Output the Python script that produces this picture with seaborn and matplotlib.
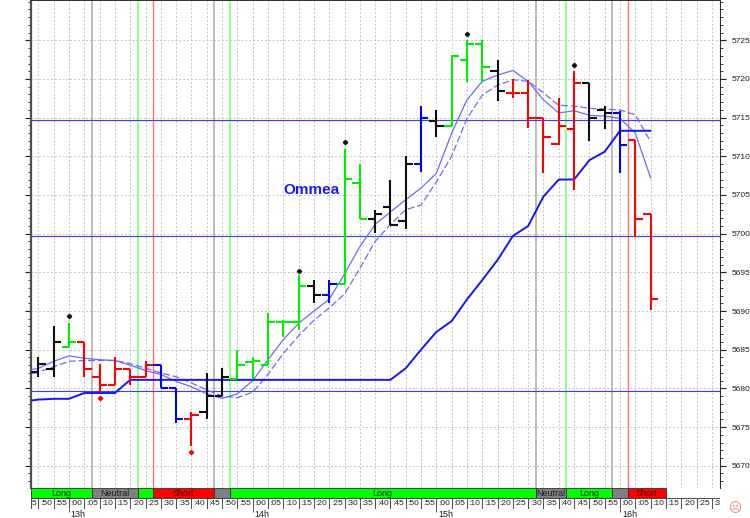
import numpy as np
import pandas as pd
import matplotlib
matplotlib.use('Agg')
import matplotlib.pyplot as plt
import seaborn as sns
from matplotlib.patches import Rectangle
from matplotlib.ticker import MultipleLocator

# bar times, minutes after 12:00 (12:50 ... 16:10)
times = list(range(50, 255, 5))
opens = [5682.1, 5682.5, 5685.4, 5686.0, 5681.5, 5680.5, 5682.5, 5681.5, 5683.0, 5680.0,
         5676.1, 5677.0, 5679.0, 5681.2, 5683.4, 5683.0, 5688.6, 5688.6, 5693.2, 5692.1,
         5693.5, 5706.6, 5701.9, 5703.5, 5701.6, 5709.0, 5714.6, 5713.9, 5722.5, 5724.5,
         5721.0, 5718.2, 5718.2, 5715.0, 5711.6, 5713.5, 5719.5, 5716.0, 5715.6, 5712.1,
         5702.5]
highs = [5684.0, 5688.0, 5688.5, 5686.0, 5683.1, 5684.0, 5682.5, 5683.6, 5683.0, 5680.0,
         5677.0, 5682.0, 5682.6, 5685.0, 5684.0, 5689.7, 5688.9, 5694.7, 5694.0, 5694.0,
         5711.0, 5709.0, 5703.0, 5707.0, 5710.0, 5716.5, 5716.0, 5723.1, 5725.0, 5725.0,
         5722.5, 5720.0, 5719.9, 5715.0, 5717.5, 5721.0, 5719.5, 5716.5, 5715.8, 5712.1,
         5702.5]
lows = [5681.5, 5681.5, 5685.4, 5681.5, 5679.5, 5680.5, 5680.5, 5681.5, 5680.0, 5675.5,
        5672.5, 5676.1, 5679.0, 5681.2, 5681.2, 5683.0, 5686.7, 5687.6, 5691.0, 5691.0,
        5693.5, 5701.9, 5700.1, 5701.1, 5700.6, 5708.0, 5712.5, 5713.9, 5719.6, 5719.6,
        5717.1, 5717.5, 5713.6, 5707.9, 5711.5, 5705.6, 5712.0, 5713.5, 5707.9, 5699.6,
        5690.1]
closes = [5683.2, 5686.0, 5686.0, 5682.5, 5680.5, 5682.5, 5681.5, 5683.0, 5680.0, 5676.0,
          5676.6, 5679.0, 5681.5, 5683.0, 5683.5, 5688.6, 5688.6, 5693.2, 5692.1, 5693.5,
          5707.1, 5701.9, 5702.5, 5701.1, 5709.0, 5714.9, 5713.9, 5723.0, 5724.5, 5721.5,
          5718.5, 5718.2, 5715.0, 5712.5, 5713.9, 5719.5, 5714.9, 5715.6, 5711.5, 5701.9,
          5691.6]
bar_kinds = ['k', 'k', 'g', 'r', 'r', 'r', 'r', 'r', 'b', 'b',
             'r', 'k', 'k', 'g', 'g', 'g', 'g', 'g', 'k', 'b',
             'g', 'g', 'k', 'k', 'k', 'b', 'k', 'g', 'g', 'g',
             'k', 'r', 'r', 'r', 'r', 'r', 'k', 'k', 'b', 'r',
             'r']

# indicator lines (12:45 ... 16:10)
line_times = list(range(45, 255, 5))
ma_fast = [5682.2, 5682.6, 5683.5, 5684.2, 5683.9, 5683.7, 5683.6, 5683.0, 5682.3, 5681.8,
           5680.9, 5680.2, 5679.3, 5678.7, 5679.3, 5681.0, 5683.7, 5686.3, 5688.4, 5690.0,
           5691.5, 5694.8, 5698.3, 5701.2, 5702.8, 5704.4, 5705.9, 5707.8, 5713.0, 5717.3,
           5719.7, 5720.5, 5721.1, 5719.7, 5717.3, 5715.6, 5715.9, 5715.3, 5715.2, 5714.9,
           5713.0, 5707.2]
ma_slow = [5681.6, 5682.1, 5682.8, 5683.5, 5683.6, 5683.6, 5683.6, 5683.2, 5682.6, 5682.0,
           5681.5, 5680.7, 5679.8, 5679.0, 5678.8, 5679.5, 5681.8, 5684.5, 5686.8, 5688.8,
           5690.4, 5692.2, 5695.5, 5699.0, 5701.2, 5703.1, 5703.7, 5706.7, 5710.0, 5714.9,
           5717.9, 5719.2, 5719.9, 5719.7, 5718.2, 5716.6, 5716.5, 5716.2, 5716.1, 5716.0,
           5715.35, 5711.9]
stop_line = [5678.3, 5678.55, 5678.65, 5678.65, 5679.4, 5679.4, 5679.4, 5681.1, 5681.1, 5681.1,
             5681.1, 5681.1, 5681.1, 5681.1, 5681.1, 5681.1, 5681.1, 5681.1, 5681.1, 5681.1,
             5681.1, 5681.1, 5681.1, 5681.1, 5681.1, 5682.6, 5685.0, 5687.3, 5688.7, 5691.5,
             5694.0, 5696.6, 5699.7, 5701.0, 5704.8, 5707.0, 5707.0, 5709.5, 5710.6, 5713.3,
             5713.3, 5713.3]

levels = [5714.7, 5699.7, 5679.6]
top_dot_times = [60, 135, 150, 190, 225]
top_dot_values = [5689.3, 5695.2, 5711.8, 5725.8, 5721.8]
low_dot_times = [70, 100]
low_dot_values = [5678.7, 5671.8]

gray_marks = [67.5, 107.5, 212.5, 237.5]
green_marks = [82.5, 112.5, 222.5]
red_marks = [87.5, 242.5]

signal_start = [47.59, 67.5, 82.5, 87.5, 107.5, 112.5, 212.5, 222.5, 237.5, 242.5]
signal_end = [67.5, 82.5, 87.5, 107.5, 112.5, 212.5, 222.5, 237.5, 242.5, 255]
signal_state = ['Long', 'Neutral', 'Long', 'Short', 'Neutral', 'Long', 'Neutral', 'Long', 'Neutral', 'Short']
signal_text = ['Long', 'Neutral', '', 'Short', '', 'Long', 'Neutral', 'Long', '', 'Short']

price_ticks = list(range(5670, 5730, 5))
hours = [60, 120, 180, 240]
hour_labels = ['13h', '14h', '15h', '16h']

XMIN, XMAX = 47.59, 272.5
YMIN, YMAX = 5667.12, 5730.21

sns.set_style('white')
plt.rcParams['font.family'] = ['Liberation Sans', 'DejaVu Sans']

bar_colors = {'k': '#101010', 'g': '#00ee00', 'r': '#ff0000', 'b': '#0000ff'}
state_colors = {'Long': '#00ff00', 'Neutral': '#808080', 'Short': '#ff0000'}
state_text = {'Long': '#003300', 'Neutral': '#202020', 'Short': '#500000'}

fig = plt.figure(figsize=(7.5, 5.18), dpi=100)
ax = fig.add_axes([31 / 750, 30 / 518, 688.5 / 750, 488 / 518])

# grid
ax.set_xlim(XMIN, XMAX)
ax.set_ylim(YMIN, YMAX)
ax.xaxis.set_major_locator(MultipleLocator(5))
ax.set_yticks(price_ticks)
ax.yaxis.set_minor_locator(MultipleLocator(1))
ax.grid(True, which='major', color='#c4c4c4', linestyle=(0, (2, 2)), lw=0.7, zorder=0)
ax.set_axisbelow(True)

# signal change markers
ax.vlines(gray_marks, YMIN, YMAX, color='#a8a8a8', lw=1.1, zorder=1)
ax.vlines(green_marks, YMIN, YMAX, color='#70ff70', lw=1.1, zorder=1)
ax.vlines(red_marks, YMIN, YMAX, color='#ff7070', lw=1.0, zorder=1)

# horizontal levels
for lv in levels:
    ax.axhline(lv, color='#3c3cff', lw=0.8, zorder=2)

# indicator lines
df = pd.DataFrame({'t': line_times, 'fast': ma_fast, 'slow': ma_slow, 'stop': stop_line})
sns.lineplot(data=df, x='t', y='fast', ax=ax, color='#6a6aff', lw=0.9, zorder=3)
sns.lineplot(data=df, x='t', y='slow', ax=ax, color='#6a6aff', lw=0.9,
             linestyle=(0, (5.5, 2.2)), zorder=3)
sns.lineplot(data=df, x='t', y='stop', ax=ax, color='#1414ff', lw=1.4, zorder=3)

# OHLC bars
half = 2.4
for t, o, h, l, c, k in zip(times, opens, highs, lows, closes, bar_kinds):
    col = bar_colors[k]
    ax.vlines(t, l, h, color=col, lw=1.5, zorder=4)
    ax.hlines(o, t - half, t, color=col, lw=1.5, zorder=4)
    ax.hlines(c, t, t + half, color=col, lw=1.5, zorder=4)

ax.plot(top_dot_times, top_dot_values, 'D', color='#101010', ms=2.2, zorder=5)
ax.plot(low_dot_times, low_dot_values, 'D', color='#ff0000', ms=2.2, zorder=5)

ax.text(129.9, 5705.7, 'Ommea', color='#1a1aff', fontsize=11, fontweight='bold',
        ha='left', va='center', zorder=6)

# axes styling
ax.set_xlabel('')
ax.set_ylabel('')
ax.yaxis.tick_right()
ax.tick_params(axis='y', which='both', left=True, right=True, labelleft=False,
               labelright=True, direction='out', labelsize=6, colors='#202020', pad=5)
ax.tick_params(axis='y', which='major', length=4, width=0.8)
ax.tick_params(axis='y', which='minor', length=2.5, width=0.6)
ax.tick_params(axis='x', which='both', bottom=False, labelbottom=False)
ax.spines['left'].set_color('#505050')
ax.spines['left'].set_linewidth(1.6)
ax.spines['right'].set_color('#303030')
ax.spines['right'].set_linewidth(0.8)
ax.spines['top'].set_color('#303030')
ax.spines['top'].set_linewidth(1.4)
ax.spines['bottom'].set_visible(False)

# signal strip and time row
sax = fig.add_axes([31 / 750, 9.5 / 518, 688.5 / 750, 20.5 / 518])
sax.set_xlim(XMIN, XMAX)
sax.set_ylim(0, 2)
sax.axis('off')
for x0, x1, st, lab in zip(signal_start, signal_end, signal_state, signal_text):
    sax.add_patch(Rectangle((x0, 1), x1 - x0, 1, facecolor=state_colors[st],
                            edgecolor='#303030', lw=0.6))
    if lab:
        sax.text((x0 + x1) / 2, 1.45, lab, ha='center', va='center', fontsize=6.5,
                 color=state_text[st])

sax.add_patch(Rectangle((XMIN, 0), XMAX - XMIN, 1, facecolor='white',
                        edgecolor='#303030', lw=0.6))
for t in range(45, 275, 5):
    sax.vlines(t, 0, 1, color='#303030', lw=0.6)
    txt = sax.text(t + 2.5, 0.48, ':%02d' % (t % 60), ha='center', va='center',
                   fontsize=6, color='#202020')
    txt.set_clip_on(True)

for t, lab in zip(hours, hour_labels):
    sax.vlines(t, -0.35, 0, color='#303030', lw=0.6, clip_on=False)
    sax.text(t + 0.6, -0.12, lab, ha='left', va='top', fontsize=6.5,
             color='#202020', clip_on=False)

fig.text(735 / 750, 1 - 509 / 518, '\u2639', color='#ff7070', fontsize=9,
         ha='center', va='center', family='DejaVu Sans')

fig.savefig('out.png', dpi=100)
